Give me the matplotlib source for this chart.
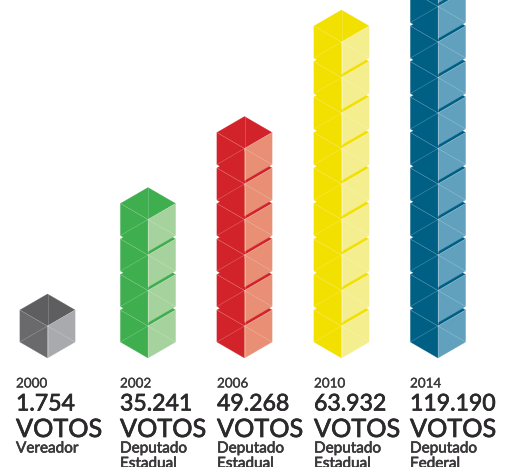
import matplotlib
matplotlib.use("Agg")
import matplotlib.pyplot as plt
import matplotlib.patheffects as pe
from matplotlib.patches import Polygon

years = ["2000", "2002", "2006", "2010", "2014"]
votes = ["1.754", "35.241", "49.268", "63.932", "119.190"]
offices = ["Vereador", "Deputado\nEstadual", "Deputado\nEstadual", "Deputado\nEstadual", "Deputado\nFederal"]
cubes = [1, 4, 6, 9, 11]

# top, left and right face colours
dark = ["#6a6a6d", "#3fae4f", "#d2232a", "#f2e000", "#005f85"]
top_c = ["#5e5e61", "#3fae4f", "#d2232a", "#f2e000", "#005f85"]
light = ["#a9aaad", "#a5d29d", "#e88f76", "#f5ee8e", "#62a1be"]

col_x = [47.5, 148, 244.5, 341.5, 438]
text_x = [16, 120, 217, 314, 410]
base_y = 358
step = 35.5
R = 32
hw = 27.6


def draw_cube(ax, cx, cy, c_left, c_top, c_right):
    top = (cx, cy - R)
    bot = (cx, cy + R)
    ul = (cx - hw, cy - R / 2)
    ur = (cx + hw, cy - R / 2)
    ll = (cx - hw, cy + R / 2)
    lr = (cx + hw, cy + R / 2)
    mid = (cx, cy)
    ax.add_patch(Polygon([top, ur, mid, ul], fc=c_top, ec=c_top, lw=0.2))
    ax.add_patch(Polygon([ul, mid, bot, ll], fc=c_left, ec=c_left, lw=0.2))
    ax.add_patch(Polygon([mid, ur, lr, bot], fc=c_right, ec=c_right, lw=0.2))
    # thin spokes
    for p in [top, bot, ul, ur, ll, lr]:
        ax.plot([cx, p[0]], [cy, p[1]], color="white", lw=0.4, alpha=0.3)


def label(ax, x, y, s, size, color, stroke, **kw):
    t = ax.text(x, y, s, fontsize=size, family="Lato", color=color, ha="left", **kw)
    t.set_path_effects([pe.withStroke(linewidth=stroke, foreground=color)])


fig = plt.figure(figsize=(5.08, 4.67), dpi=100)
ax = fig.add_axes([0, 0, 1, 1])
ax.set_xlim(0, 508)
ax.set_ylim(467, 0)
ax.axis("off")

for i in range(len(years)):
    for n in range(cubes[i]):
        cy = base_y - R - n * step
        draw_cube(ax, col_x[i], cy, dark[i], top_c[i], light[i])

    label(ax, text_x[i], 383.5, years[i], 9.7, "#3a383a", 0.2, va="center")
    label(ax, text_x[i], 404, votes[i], 16.6, "#2b292b", 0.5, va="center")
    label(ax, text_x[i], 429.5, "VOTOS", 18.2, "#2b292b", 0.5, va="center")
    label(ax, text_x[i], 441.5, offices[i], 11, "#3a383a", 0.45, va="top", linespacing=1.12)

fig.savefig("out.png", dpi=100)
